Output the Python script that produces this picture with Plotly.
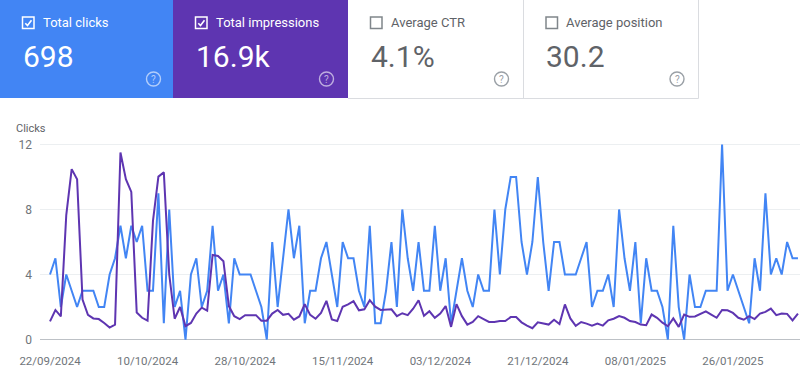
import pandas as pd
import plotly.graph_objects as go

# ---------------- data ----------------
start_date = "2024-09-22"
clicks = [4, 5, 2, 4, 3, 2, 3, 3, 3, 2, 2, 4, 5, 7, 5, 7, 6, 7, 3, 3,
          9, 1, 8, 2, 3, 0, 4, 5, 2, 3, 7, 3, 4, 1, 5, 4, 4, 4, 3, 2,
          0, 6, 2, 5, 8, 5, 7, 1, 3, 3, 5, 6, 4, 2, 6, 5, 5, 3, 2, 7,
          1, 1, 3, 6, 2, 8, 5, 3, 6, 3, 3, 7, 3, 5, 1, 3, 5, 3, 2, 4,
          3, 3, 8, 4, 8, 10, 10, 6, 4, 6, 10, 6, 3, 6, 6, 4, 4, 4, 5, 6,
          2, 3, 3, 4, 2, 8, 5, 3, 6, 1, 5, 3, 3, 2, 0, 7, 2, 0, 4, 2,
          2, 3, 3, 3, 12, 3, 4, 3, 2, 1, 5, 3, 9, 4, 5, 4, 6, 5, 5]
impressions = [56, 91, 71, 383, 524, 493, 123, 76, 65, 63, 51, 37, 46, 575, 493, 454, 83, 67, 58, 365,
               501, 514, 200, 64, 100, 41, 51, 80, 98, 89, 260, 257, 241, 103, 72, 63, 75, 75, 75, 58,
               58, 80, 91, 76, 79, 61, 71, 109, 76, 64, 82, 119, 62, 57, 101, 108, 118, 90, 93, 121,
               101, 91, 91, 93, 72, 81, 75, 95, 121, 73, 87, 67, 80, 103, 39, 109, 72, 46, 54, 72,
               63, 54, 54, 57, 57, 69, 69, 53, 43, 35, 53, 50, 46, 61, 48, 108, 65, 42, 54, 49,
               43, 49, 43, 59, 64, 72, 67, 57, 54, 46, 44, 77, 67, 52, 41, 65, 39, 77, 70, 71,
               79, 87, 77, 67, 91, 90, 82, 67, 61, 72, 63, 80, 85, 95, 75, 80, 79, 59, 80]
tick_labels = ["22/09/2024", "10/10/2024", "28/10/2024", "15/11/2024",
               "03/12/2024", "21/12/2024", "08/01/2025", "26/01/2025"]
y_ticks = [0, 4, 8, 12]
cards = [
    {"label": "Total clicks", "value": "698", "checked": True, "bg": "#4285f4"},
    {"label": "Total impressions", "value": "16.9k", "checked": True, "bg": "#5e35b1"},
    {"label": "Average CTR", "value": "4.1%", "checked": False, "bg": "#ffffff"},
    {"label": "Average position", "value": "30.2", "checked": False, "bg": "#ffffff"},
]

n = min(len(clicks), len(impressions))
dates = pd.date_range(start_date, periods=n, freq="D")
tick_dates = pd.to_datetime(tick_labels, format="%d/%m/%Y")

# ---------------- layout geometry ----------------
W, H = 800, 370
ML, MR, MT, MB = 40, 0, 142, 28
PW, PH = W - ML - MR, H - MT - MB
px_per_day = 5.42
x_start = pd.Timestamp(start_date) - pd.Timedelta(days=10 / px_per_day)
x_end = x_start + pd.Timedelta(days=PW / px_per_day)


def fx(x):
    return (x - ML) / PW


def fy(y):
    return (H - MB - y) / PH


FONT = "Roboto, Arial, sans-serif"
GREY = "#5f6368"

fig = go.Figure()
fig.add_trace(go.Scatter(x=dates, y=impressions[:n], mode="lines", yaxis="y2",
                         line=dict(color="#5e35b1", width=2), hoverinfo="skip"))
fig.add_trace(go.Scatter(x=dates, y=clicks[:n], mode="lines",
                         line=dict(color="#4285f4", width=2), hoverinfo="skip"))

shapes = []
annotations = []
card_x = [0, 173, 348, 523.5]
card_w = [173, 175, 175.5, 174.5]
for i, c in enumerate(cards):
    x0 = card_x[i]
    x1 = x0 + card_w[i]
    if c["bg"] != "#ffffff":
        shapes.append(dict(type="rect", xref="paper", yref="paper",
                           x0=fx(x0), x1=fx(x1), y0=fy(98), y1=fy(-5),
                           fillcolor=c["bg"], line=dict(width=0), layer="above"))
    txt = "#ffffff" if c["checked"] else GREY
    icon = "rgba(255,255,255,0.6)" if c["checked"] else "#9aa0a6"
    box = "#ffffff" if c["checked"] else "#80868b"
    bx, by = x0 + 22.5, 17
    s = 11.5
    shapes.append(dict(type="rect", xref="paper", yref="paper",
                       x0=fx(bx), x1=fx(bx + s), y0=fy(by + s), y1=fy(by),
                       line=dict(color=box, width=1.5), fillcolor="rgba(0,0,0,0)"))
    if c["checked"]:
        path = "M {} {} L {} {} L {} {}".format(
            fx(bx + 2.8), fy(by + 6.2), fx(bx + 5), fy(by + 8.6), fx(bx + 9), fy(by + 3.2))
        shapes.append(dict(type="path", xref="paper", yref="paper", path=path,
                           line=dict(color="#ffffff", width=1.6)))
    annotations.append(dict(x=fx(x0 + 40.5), y=fy(22.5), xref="paper", yref="paper",
                            text=c["label"], showarrow=False, xanchor="left", yanchor="middle",
                            font=dict(family=FONT, size=13, color=txt)))
    annotations.append(dict(x=fx(x0 + 20.5), y=fy(57), xref="paper", yref="paper",
                            text=c["value"], showarrow=False, xanchor="left", yanchor="middle",
                            font=dict(family=FONT, size=30, color=txt)))
    cx, cy, r = x0 + 153.5, 79, 7
    shapes.append(dict(type="circle", xref="paper", yref="paper",
                       x0=fx(cx - r), x1=fx(cx + r), y0=fy(cy + r), y1=fy(cy - r),
                       line=dict(color=icon, width=1.4)))
    annotations.append(dict(x=fx(cx), y=fy(cy), xref="paper", yref="paper", text="?",
                            showarrow=False, xanchor="center", yanchor="middle",
                            font=dict(family=FONT, size=10, color=icon)))

# white card borders
border = "#dadce0"
shapes.append(dict(type="line", xref="paper", yref="paper", x0=fx(348), x1=fx(698.5),
                   y0=fy(98.5), y1=fy(98.5), line=dict(color=border, width=1)))
for bxv in (523.5, 698.5):
    shapes.append(dict(type="line", xref="paper", yref="paper", x0=fx(bxv), x1=fx(bxv),
                       y0=fy(98.5), y1=fy(-5), line=dict(color=border, width=1)))

annotations.append(dict(x=fx(14), y=fy(128.5), xref="paper", yref="paper", text="Clicks",
                        showarrow=False, xanchor="left", yanchor="middle",
                        font=dict(family=FONT, size=11, color=GREY)))

fig.update_layout(
    width=W, height=H,
    margin=dict(l=ML, r=MR, t=MT, b=MB, pad=0),
    paper_bgcolor="#ffffff", plot_bgcolor="#ffffff",
    showlegend=False,
    font=dict(family=FONT, color="#757575"),
    xaxis=dict(type="date", range=[x_start, x_end], tickvals=tick_dates, ticktext=tick_labels,
               showgrid=False, zeroline=False, showline=False, ticks="",
               tickfont=dict(size=11.5, color="#70757a"), ticklabelstandoff=10),
    yaxis=dict(range=[-0.15, 12.15], tickvals=y_ticks, showgrid=True, gridcolor="#eceff1",
               gridwidth=1, zeroline=True, zerolinecolor="#bdc1c6", zerolinewidth=1,
               showline=False, ticks="", tickfont=dict(size=12, color="#70757a"),
               ticklabelstandoff=7),
    yaxis2=dict(range=[-7.5, 607.5], overlaying="y", side="right", visible=False),
    shapes=shapes, annotations=annotations,
)

fig.write_html("out.html", config={"displayModeBar": False, "staticPlot": True},
               post_script="document.body.style.margin='0';document.body.style.overflow='hidden';")
